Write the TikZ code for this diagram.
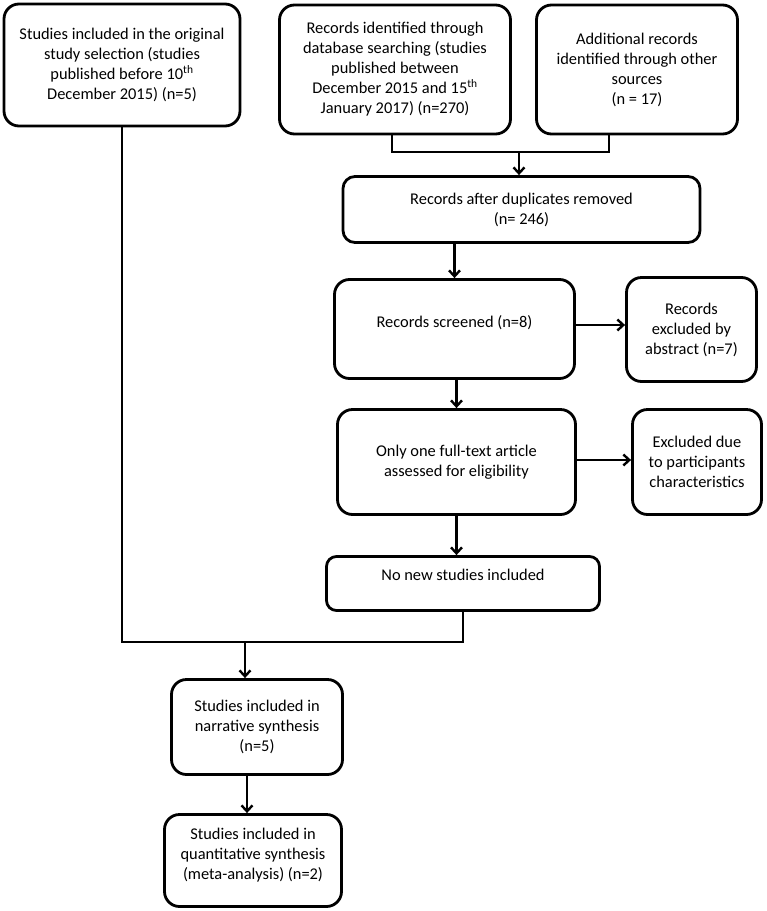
\documentclass[tikz,border=0pt]{standalone}
\usepackage{fontspec}
\setmainfont{Carlito}
\usetikzlibrary{arrows.meta}

\begin{document}
\begin{tikzpicture}[x=1pt,y=-1pt,
      every node/.style={font=\fontsize{16.4}{20}\selectfont,align=center},
      box/.style={draw,line width=2.8pt,rounded corners=15pt,inner sep=2pt},
      arr/.style={line width=2.8pt,-{Straight Barb[length=6pt,width=11pt,line width=2.4pt]}},
      ln/.style={line width=2.8pt}]
    \useasboundingbox (0,0) rectangle (767,911);
    % top row
    \node[box,minimum width=236pt,minimum height=122pt] (orig) at (122,65)
      {Studies included in the original\\study selection (studies\\published before 10\textsuperscript{th}\\December 2015) (n=5)};
    \node[box,minimum width=231pt,minimum height=129pt] (db) at (395,69.5)
      {Records identified through\\database searching (studies\\published between\\December 2015 and 15\textsuperscript{th}\\January 2017) (n=270)};
    \node[box,minimum width=201pt,minimum height=129pt] (other) at (637,69.5)
      {Additional records\\identified through other\\sources\\(n = 17)};
    % main column
    \node[box,rounded corners=12pt,minimum width=357pt,minimum height=66pt] (dup) at (521.5,209.5)
      {Records after duplicates removed\\(n= 246)};
    \node[box,minimum width=240pt,minimum height=99pt,text depth=16pt] (screen) at (454.5,329)
      {Records screened (n=8)};
    \node[box,minimum width=130pt,minimum height=104pt] (abs) at (691.5,329.5)
      {Records\\excluded by\\abstract (n=7)};
    \node[box,minimum width=238pt,minimum height=105pt] (full) at (456.5,462)
      {Only one full-text article\\assessed for eligibility};
    \node[box,minimum width=129pt,minimum height=105pt] (part) at (697,462)
      {Excluded due\\to participants\\characteristics};
    \node[box,rounded corners=10pt,minimum width=273pt,minimum height=54pt,text depth=18pt] (none) at (463,583.5)
      {No new studies included};
    % bottom column
    \node[box,minimum width=171pt,minimum height=95pt] (narr) at (257,727)
      {Studies included in\\narrative synthesis\\(n=5)};
    \node[box,minimum width=177pt,minimum height=92pt,text depth=14pt] (quant) at (253,860.5)
      {Studies included in\\quantitative synthesis\\(meta-analysis) (n=2)};

    % connectors
    \coordinate (merge) at (519,152);
    \coordinate (join) at (245,642);
    \draw[ln] (392,0 |- db.south) -- (392,152) -- (609,152) -- (609,0 |- other.south);
    \draw[arr] (merge) -- (merge |- dup.north);
    \draw[arr] (screen.north |- dup.south) -- (screen.north);
    \draw[arr] (screen.east |- 0,325) -- (abs.west |- 0,325);
    \draw[arr] (full.north |- screen.south) -- (full.north);
    \draw[arr] (full.east |- 0,460) -- (part.west |- 0,460);
    \draw[arr] (full.south) -- (full.south |- none.north);
    \draw[ln] (none.south) -- (none.south |- join) -- (orig.south |- join) -- (orig.south);
    \draw[arr] (join) -- (join |- narr.north);
    \draw[arr] (narr.south -| 247,0) -- (quant.north -| 247,0);
\end{tikzpicture}
\end{document}
